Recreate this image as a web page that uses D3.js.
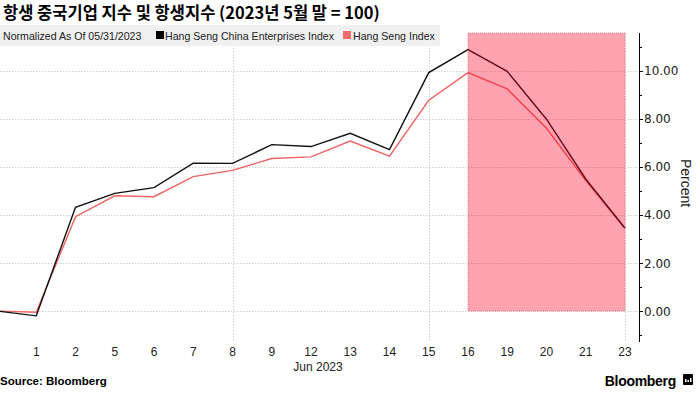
<!DOCTYPE html>
<html><head><meta charset="utf-8">
<script src="https://cdn.jsdelivr.net/npm/d3@7"></script>
<style>
body{margin:0;background:#fff;}
svg{display:block;font-family:"Liberation Sans",Arial,sans-serif;}
</style></head>
<body><svg id="c" width="697" height="393"></svg>
<script>
const categories = ["31","1","2","5","6","7","8","9","12","13","14","15","16","19","20","21","23"];
const tickLabels = ["","1","2","5","6","7","8","9","12","13","14","15","16","19","20","21","23"];
const hscei = [0,-0.2,4.32,4.9,5.14,6.16,6.15,6.93,6.85,7.4,6.72,9.93,10.89,9.98,7.99,5.5,3.45];
const hsi   = [0,-0.05,3.93,4.8,4.76,5.6,5.86,6.35,6.42,7.08,6.45,8.78,9.93,9.25,7.61,5.43,3.45];
const yTicks = [0,2,4,6,8,10];
const yMinor = [-1,1,3,5,7,9,11];
const vGrid = ["8","15","23"];
const shadeFrom = "16", shadeTo = "23";

(function(){
const svg = d3.select("#c");
const plotTop = 33, plotBottom = 342, axisX = 639;
const x = d3.scalePoint().domain(categories).range([-3, 625]);
const y = d3.scaleLinear().domain([-1.29, 11.58]).range([plotBottom, plotTop]);

// title
svg.append("text").attr("x",3).attr("y",19).attr("font-size",16.5).attr("font-weight","bold")
  .attr("font-family","'Noto Sans CJK KR',sans-serif").attr("fill","#000")
  .text("항생 중국기업 지수 및 항생지수 (2023년 5월 말 = 100)");

// grid
const g = svg.append("g");
g.selectAll(".hg").data(yTicks).join("line")
  .attr("x1",0).attr("x2",axisX).attr("y1",d=>y(d)+0.5).attr("y2",d=>y(d)+0.5)
  .attr("stroke","#cfcfcf").attr("stroke-dasharray","1.5,1.5").attr("stroke-width",1);
g.selectAll(".vg").data(vGrid).join("line")
  .attr("x1",d=>Math.round(x(d))+0.5).attr("x2",d=>Math.round(x(d))+0.5).attr("y1",plotTop).attr("y2",plotBottom)
  .attr("stroke","#cfcfcf").attr("stroke-dasharray","1.5,1.5").attr("stroke-width",1);

// legend bar
svg.append("rect").attr("x",0).attr("y",25).attr("width",440).attr("height",21).attr("fill","#f0f0f0");
const lg = svg.append("g").attr("font-size",10.6).attr("fill","#222");
lg.append("text").attr("x",3).attr("y",40).text("Normalized As Of 05/31/2023");
lg.append("rect").attr("x",156).attr("y",31).attr("width",8).attr("height",8).attr("fill","#000");
lg.append("text").attr("x",165).attr("y",40).text("Hang Seng China Enterprises Index");
lg.append("rect").attr("x",343).attr("y",31).attr("width",8).attr("height",8).attr("fill","#f26b6b");
lg.append("text").attr("x",353).attr("y",40).text("Hang Seng Index");

// lines
const line = d3.line().x((d,i)=>x(categories[i])).y(d=>y(d));
svg.append("path").datum(hsi).attr("d",line).attr("fill","none").attr("stroke","#f26363").attr("stroke-width",1.4);
svg.append("path").datum(hscei).attr("d",line).attr("fill","none").attr("stroke","#111").attr("stroke-width",1.4);

// shading
svg.append("rect").attr("x",x(shadeFrom)).attr("y",plotTop).attr("width",x(shadeTo)-x(shadeFrom))
  .attr("height",y(0)-plotTop).attr("fill","rgb(255,0,40)").attr("fill-opacity",0.36)
  .attr("stroke","#e0707e").attr("stroke-dasharray","1,1").attr("stroke-width",0.8);

// right axis
const ax = svg.append("g").attr("transform",`translate(${axisX},0)`);
ax.append("line").attr("x1",0.5).attr("x2",0.5).attr("y1",plotTop).attr("y2",plotBottom).attr("stroke","#000");
ax.selectAll(".mt").data(yTicks).join("line").attr("x1",0).attr("x2",4)
  .attr("y1",d=>y(d)+0.5).attr("y2",d=>y(d)+0.5).attr("stroke","#000");
ax.selectAll(".mn").data(yMinor).join("line").attr("x1",0).attr("x2",3)
  .attr("y1",d=>y(d)+0.5).attr("y2",d=>y(d)+0.5).attr("stroke","#000");
ax.selectAll(".tl").data(yTicks).join("text").attr("x",5).attr("y",d=>y(d)+4.5)
  .attr("font-size",12).attr("font-family","'DejaVu Sans',sans-serif").attr("fill","#222")
  .text(d=>d3.format(".2f")(d));
svg.append("text").attr("transform","translate(681,183) rotate(90)").attr("text-anchor","middle")
  .attr("font-size",14).attr("fill","#222").text("Percent");

// x labels
svg.append("g").selectAll("text").data(categories).join("text")
  .attr("x",d=>x(d)).attr("y",356).attr("text-anchor","middle").attr("font-size",12).attr("fill","#222")
  .text((d,i)=>tickLabels[i]);
svg.append("text").attr("x",318).attr("y",371).attr("text-anchor","middle").attr("font-size",12)
  .attr("fill","#222").text("Jun 2023");

// footer
svg.append("text").attr("x",0).attr("y",385).attr("font-size",11.5).attr("font-weight","bold").attr("fill","#000")
  .text("Source:  Bloomberg");
svg.append("text").attr("x",676).attr("y",386).attr("text-anchor","end").attr("font-size",14)
  .attr("font-weight","bold").attr("fill","#000").attr("letter-spacing","-0.3").text("Bloomberg");
svg.append("rect").attr("x",683).attr("y",374).attr("width",10).attr("height",11).attr("rx",1).attr("fill","#000");
svg.append("g").selectAll("rect").data([3,2,4]).join("rect")
  .attr("x",(d,i)=>685+i*2.5).attr("y",d=>382-d).attr("width",1.5).attr("height",d=>d).attr("fill","#fff");
})();
</script></body></html>
